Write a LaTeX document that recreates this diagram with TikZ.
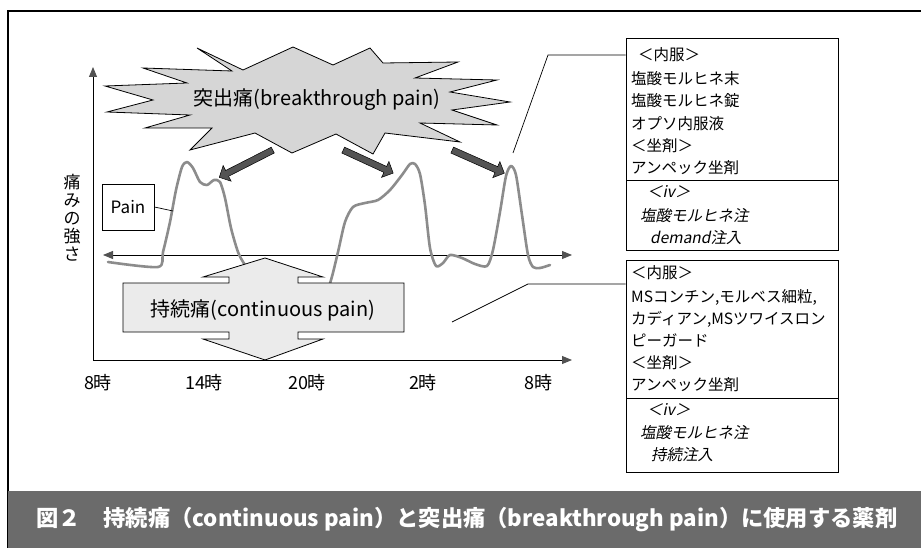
\documentclass[tikz,border=0pt]{standalone}
\usepackage{fontspec}
\setmainfont{Noto Sans CJK JP}
\newfontfamily\jpit[FakeSlant=0.2]{Noto Sans CJK JP}
\usetikzlibrary{shapes.arrows,arrows.meta}
\definecolor{burstfill}{gray}{0.84}
\definecolor{contfill}{gray}{0.92}
\definecolor{curvecol}{gray}{0.55}
\definecolor{arrowfill}{gray}{0.33}
\definecolor{bandcol}{gray}{0.42}
\definecolor{tipcol}{gray}{0.32}
\begin{document}
\begin{tikzpicture}[x=1pt,y=-1pt,
  axisline/.style={line width=1pt, -{Triangle[length=10pt,width=8pt,color=tipcol]}},
  midline/.style={line width=0.9pt, {Triangle[length=10pt,width=8pt,color=tipcol]}-{Triangle[length=10pt,width=8pt,color=tipcol]}},
  bigarrow/.style={single arrow, draw=black, line width=0.5pt, fill=arrowfill, inner xsep=0pt, inner ysep=3pt,
     single arrow head extend=5.5pt, single arrow head indent=0pt, anchor=tail},
  timelbl/.style={inner sep=0pt, font=\fontsize{18}{18}\selectfont},
  boxtxt/.style={anchor=west, inner sep=0pt, font=\fontsize{15.5}{16}\selectfont},
  boxit/.style={anchor=west, inner sep=0pt, font=\jpit\fontsize{15.5}{16}\selectfont},
  medbox/.style={draw=black, line width=0.9pt, minimum width=212pt, inner sep=0pt},
  thin/.style={line width=0.7pt}
]
\useasboundingbox (0,0) rectangle (921,548);
\fill[white] (0,0) rectangle (921,548);
% frame and caption band
\draw[line width=1.3pt] (8,548) -- (8,11) -- (921,11);
\fill[bandcol] (8,491) rectangle (921,548);
\node[inner sep=0pt, text=white, font=\bfseries\fontsize{22.3}{22}\selectfont] (cap) at (467,520)
  {図２　持続痛（continuous pain）と突出痛（breakthrough pain）に使用する薬剤};

% axes
\coordinate (org) at (93,360);
\coordinate (ytop) at (93,67);
\coordinate (xend) at (572,360);
\draw[axisline] (org) -- (ytop);
\draw[axisline] (org) -- (xend);
\coordinate (ml) at (103,255);
\coordinate (mr) at (572,255);
\draw[midline] (ml) -- (mr);

% y label
\node[inner sep=0pt, align=center, font=\fontsize{17}{18}\selectfont] (ylab) at (72,218) {痛\\み\\の\\強\\さ};

% time labels
\node[timelbl] (t1) at (98,383) {8時};
\node[timelbl] (t2) at (204,383) {14時};
\node[timelbl] (t3) at (307,383) {20時};
\node[timelbl] (t4) at (423,383) {2時};
\node[timelbl] (t5) at (538,383) {8時};

% starburst
\draw[fill=burstfill, line width=0.8pt] (197,48) -- (243,70) -- (293,47) -- (333,65) -- (370,48) -- (383,63)
  -- (458,62) -- (415,78) -- (497,80) -- (450,92) -- (510,102) -- (452,110) -- (497,125) -- (420,123)
  -- (460,142) -- (385,133) -- (373,154) -- (336,134) -- (292,153) -- (255,133) -- (190,150) -- (212,128)
  -- (145,128) -- (190,115) -- (107,112) -- (153,100) -- (105,86) -- (187,83) -- (143,68) -- (232,71) -- cycle;
\node[inner sep=0pt, font=\fontsize{20}{20}\selectfont] (bt) at (317,100) {突出痛(breakthrough pain)};

% breakthrough arrows
\node[bigarrow, minimum height=60pt, rotate=207] (a1) at (273,150) {};
\node[bigarrow, minimum height=55pt, rotate=-24.7] (a2) at (343,150) {};
\node[bigarrow, minimum height=57pt, rotate=-23.9] (a3) at (452,150) {};

% pain curve
\draw[curvecol, line width=2.6pt, line join=round, line cap=round] plot[smooth, tension=0.45] coordinates {
 (108,262) (158,267) (163,252) (170,222) (176,190) (182,167) (187,162) (193,168) (200,182) (207,185)
 (214,180) (220,182) (225,198) (231,228) (238,252) (245,265) (260,285) (300,295) (325,292) (331,280)
 (338,252) (345,222) (353,207) (365,203) (378,200) (390,190) (402,175) (410,164) (415,164) (420,174)
 (425,205) (430,248) (436,266) (443,263) (450,255) (462,258) (475,264) (487,266) (493,250) (500,212)
 (506,176) (511,166) (516,175) (522,215) (528,255) (533,267) (540,268) (550,265)};

% Pain label
\node[draw=black, line width=0.9pt, minimum width=52pt, minimum height=46pt, inner sep=0pt,
  font=\fontsize{17}{17}\selectfont] (pain) at (128,207) {Pain};
\coordinate (painpt) at (173,211);
\draw[thin] (pain.east) -- (painpt);

% continuous pain shape
\draw[fill=contfill, line width=0.8pt] (123,283) -- (229,283) -- (229,277) -- (203,277) -- (265,258)
  -- (323,277) -- (298,277) -- (298,283) -- (404,283) -- (404,332) -- (298,332) -- (298,339)
  -- (323,339) -- (265,360) -- (203,339) -- (229,339) -- (229,332) -- (123,332) -- cycle;
\node[inner sep=0pt, font=\fontsize{20}{20}\selectfont] (cp) at (263,310) {持続痛(continuous pain)};

% medication box 1
\node[medbox, minimum height=212pt] (b1) at (732,144) {};
\draw[thin] (626,180) -- (838,180);
\node[boxtxt] (l11) at (638,55) {＜内服＞};
\node[boxtxt] (l12) at (631,79) {塩酸モルヒネ末};
\node[boxtxt] (l13) at (631,101) {塩酸モルヒネ錠};
\node[boxtxt] (l14) at (631,124) {オプソ内服液};
\node[boxtxt] (l15) at (631,146) {＜坐剤＞};
\node[boxtxt] (l16) at (631,168) {アンペック坐剤};
\node[boxit] (l17) at (647,192) {＜iv＞};
\node[boxit] (l18) at (640,216) {塩酸モルヒネ注};
\node[boxit] (l19) at (650,238) {demand注入};

% medication box 2
\node[medbox, minimum height=212pt] (b2) at (732,366) {};
\draw[thin] (626,398) -- (838,398);
\node[boxtxt] (l21) at (631,273) {＜内服＞};
\node[boxtxt] (l22) at (631,297) {MSコンチン,モルベス細粒,};
\node[boxtxt] (l23) at (631,319) {カディアン,MSツワイスロン};
\node[boxtxt] (l24) at (631,340) {ピーガード};
\node[boxtxt] (l25) at (631,363) {＜坐剤＞};
\node[boxtxt] (l26) at (631,385) {アンペック坐剤};
\node[boxit] (l27) at (647,410) {＜iv＞};
\node[boxit] (l28) at (640,433) {塩酸モルヒネ注};
\node[boxit] (l29) at (651,455) {持続注入};

% leader lines
\coordinate (c1s) at (513,153);
\coordinate (c1k) at (548,55);
\draw[thin] (c1s) -- (c1k) -- (b1.west |- c1k);
\coordinate (c2s) at (452,322);
\coordinate (c2k) at (528,284);
\draw[thin] (c2s) -- (c2k) -- (b2.west |- c2k);
\end{tikzpicture}
\end{document}
